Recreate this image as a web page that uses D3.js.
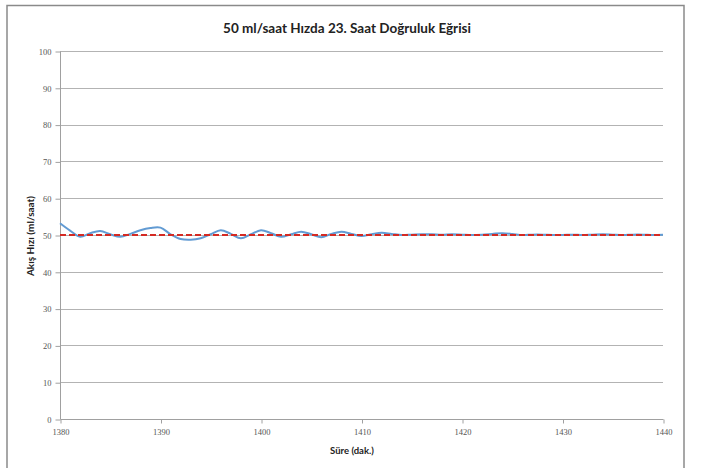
<!DOCTYPE html>
<html><head><meta charset="utf-8">
<script src="https://cdn.jsdelivr.net/npm/d3@7"></script>
<style>body{margin:0;background:#fff}svg{display:block}</style>
</head><body>
<svg id="c" width="702" height="468"></svg>
<script>
const titleText = "50 ml/saat Hızda 23. Saat Doğruluk Eğrisi";
const xTitle = "Süre (dak.)";
const yTitle = "Akış Hızı (ml/saat)";
const minutes = [1380,1381,1382,1383,1384,1385,1386,1387,1388,1389,1390,1391,1392,1393,1394,1395,1396,1397,1398,1399,1400,1401,1402,1403,1404,1405,1406,1407,1408,1409,1410,1411,1412,1413,1414,1415,1416,1417,1418,1419,1420,1421,1422,1423,1424,1425,1426,1427,1428,1429,1430,1431,1432,1433,1434,1435,1436,1437,1438,1439,1440];
const flowRate = [53.2,51.2,49.5,50.5,51.1,50.2,49.5,50.3,51.3,51.9,52.0,50.2,48.9,48.7,49.1,50.2,51.3,50.3,49.1,50.2,51.3,50.5,49.5,50.2,50.9,50.2,49.4,50.3,50.9,50.3,49.7,50.2,50.6,50.3,50.0,50.1,50.2,50.2,50.1,50.2,50.1,50.0,50.1,50.3,50.5,50.3,50.0,50.1,50.1,50.0,50.0,50.1,50.0,50.1,50.2,50.1,50.0,50.1,50.1,50.0,50.1];
const targetRate = 50;
const xTicks = [1380,1390,1400,1410,1420,1430,1440];
const yTicks = [0,10,20,30,40,50,60,70,80,90,100];

const svg = d3.select("#c");
const L = 60, R = 663, T = 51, B = 419;
const x = d3.scaleLinear().domain([1380,1440]).range([L,R]);
const y = d3.scaleLinear().domain([0,100]).range([B,T]);

// frame
svg.append("rect").attr("x",7).attr("y",5.5).attr("width",677).attr("height",470)
  .attr("fill","#fff").attr("stroke","#8a8a8a").attr("stroke-width",1.5);

// gridlines
svg.append("g").selectAll("line").data(yTicks.filter(d=>d>0)).join("line")
  .attr("x1",L).attr("x2",R).attr("y1",d=>Math.round(y(d))+0.5).attr("y2",d=>Math.round(y(d))+0.5)
  .attr("stroke","#b3b3b3").attr("stroke-width",1);

// y axis
const ya = svg.append("g").attr("transform",`translate(${L+0.5},0.5)`)
  .call(d3.axisLeft(y).tickValues(yTicks).tickSize(5).tickPadding(4));
ya.select(".domain").attr("stroke","#a0a0a0").attr("d",`M0,${y(100)}V${y(0)}`);
ya.selectAll(".tick line").attr("stroke","#a0a0a0");
ya.selectAll("text").attr("fill","#555").attr("font-family","Liberation Serif, serif").attr("font-size","8.5px");

// x axis
const xa = svg.append("g").attr("transform",`translate(0.5,${Math.round(B)+0.5})`)
  .call(d3.axisBottom(x).tickValues(xTicks).tickFormat(d3.format("d")).tickSize(4).tickPadding(5));
xa.select(".domain").attr("stroke","#a0a0a0").attr("d",`M${x(1380)},0H${x(1440)}`);
xa.selectAll(".tick line").attr("stroke","#a0a0a0");
xa.selectAll("text").attr("fill","#555").attr("font-family","Liberation Serif, serif").attr("font-size","8.5px");

// data line
const line = d3.line().x((d,i)=>x(minutes[i])).y(d=>y(d)).curve(d3.curveCatmullRom.alpha(0.5));
svg.append("path").datum(flowRate).attr("d",line).attr("fill","none")
  .attr("stroke","#629bd3").attr("stroke-width",2);

// target line
svg.append("line").attr("x1",x(1380)).attr("x2",x(1440)).attr("y1",y(targetRate)).attr("y2",y(targetRate))
  .attr("stroke","#d42a23").attr("stroke-width",2).attr("stroke-dasharray","6,3");

// titles
svg.append("text").attr("x",347).attr("y",33).attr("text-anchor","middle")
  .attr("font-family","Lato, sans-serif").attr("font-weight","bold").attr("font-size","13.5px").attr("fill","#222").text(titleText);
svg.append("text").attr("x",352).attr("y",454).attr("text-anchor","middle")
  .attr("font-family","Lato, sans-serif").attr("font-weight","bold").attr("font-size","9.5px").attr("fill","#222").text(xTitle);
svg.append("text").attr("transform","translate(34,236) rotate(-90)").attr("text-anchor","middle")
  .attr("font-family","Lato, sans-serif").attr("font-weight","bold").attr("font-size","10px").attr("fill","#222").text(yTitle);
</script>
</body></html>
